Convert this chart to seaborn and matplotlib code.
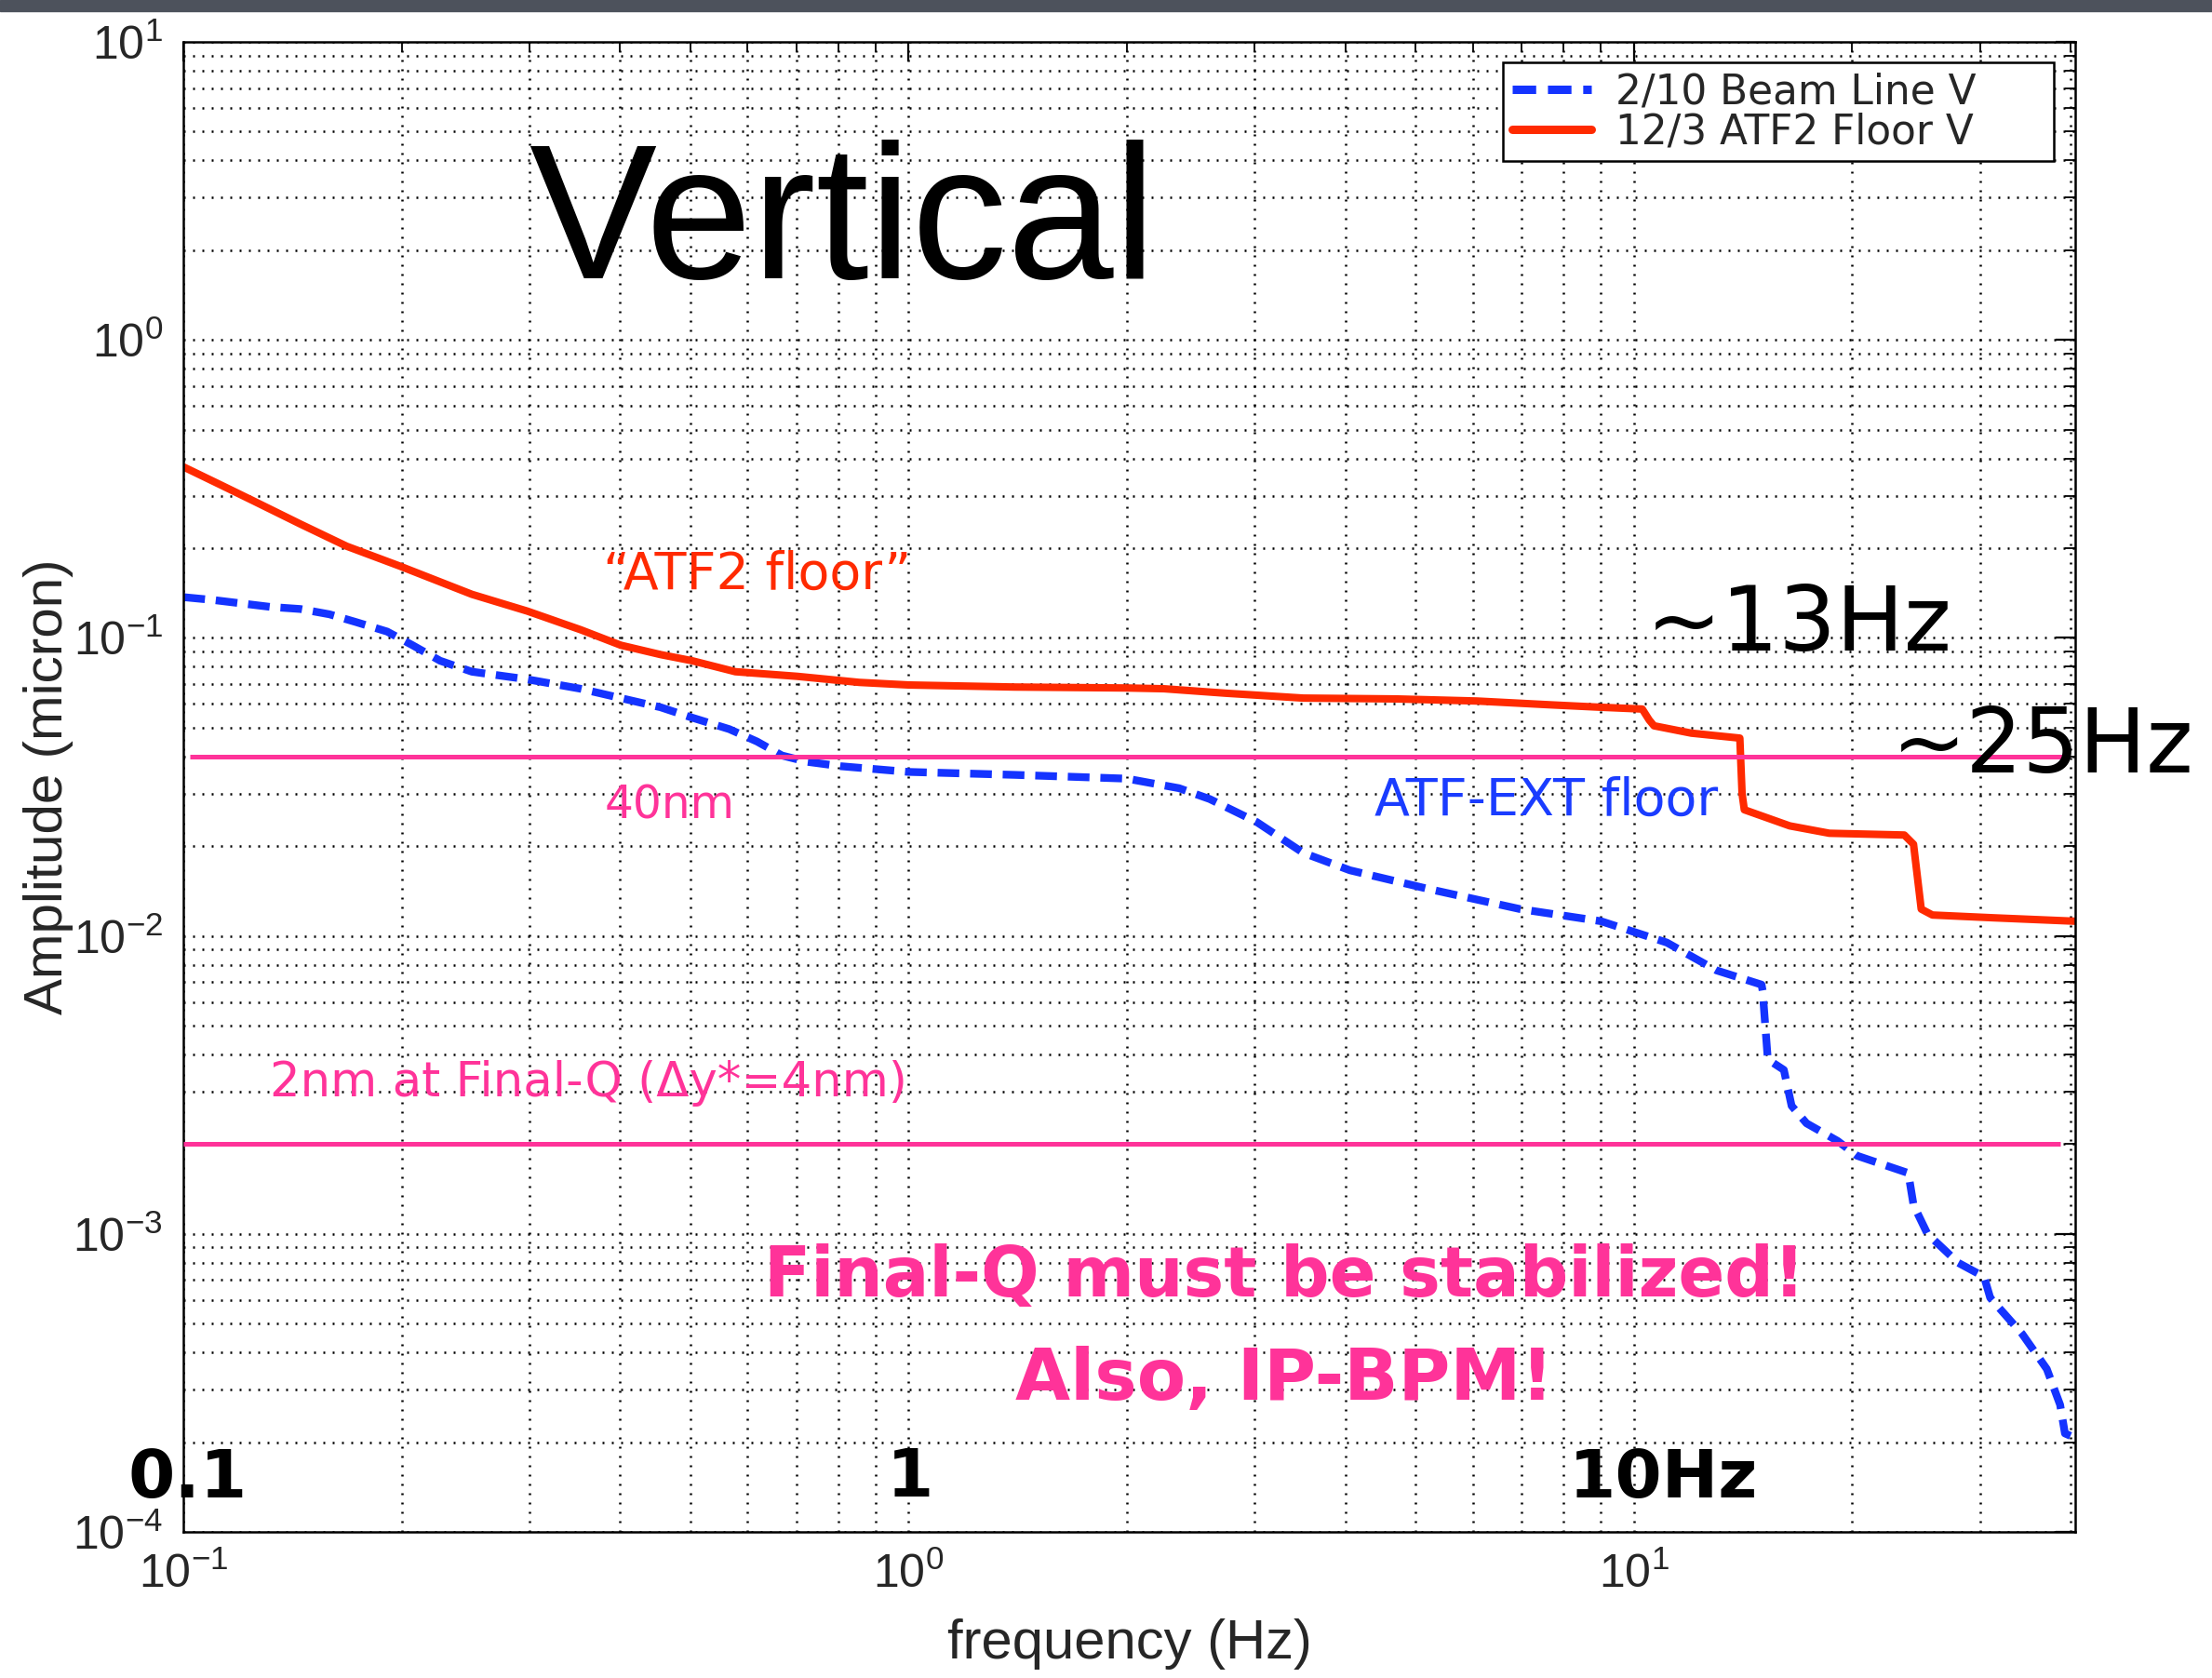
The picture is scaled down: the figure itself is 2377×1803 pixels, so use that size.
import matplotlib
matplotlib.use("Agg")
import matplotlib.pyplot as plt
import seaborn as sns
from matplotlib.patches import Rectangle
from matplotlib.ticker import LogLocator, NullFormatter

# --- data ---
beam_freq = [0.1, 0.110, 0.132, 0.145, 0.159, 0.173, 0.191, 0.207, 0.226, 0.250,
             0.298, 0.353, 0.401, 0.455, 0.498, 0.566, 0.618, 0.669, 0.724,
             0.806, 1.0, 1.40, 2.0, 2.36, 2.60, 3.02, 3.5, 4.06, 5.19, 6.97,
             9.01, 11.1, 13.0, 15.0, 15.05, 15.3, 16.1, 16.5, 17.3, 19.1, 20.3,
             23.9, 24.3, 25.4, 28.0, 30.4, 31.0, 34.3, 37.1, 38.7, 39.3, 40.0]
beam_amp = [0.137, 0.134, 0.127, 0.125, 0.120, 0.113, 0.105, 0.0945, 0.0838,
            0.0770, 0.0726, 0.0675, 0.0628, 0.0585, 0.0544, 0.0494, 0.0449,
            0.0403, 0.0384, 0.0371, 0.0355, 0.0347, 0.0337, 0.0313, 0.0288,
            0.0241, 0.0190, 0.0166, 0.0144, 0.0123, 0.0112, 0.0095, 0.00766,
            0.00686, 0.00655, 0.00385, 0.00355, 0.00269, 0.00235, 0.00205,
            0.00183, 0.0016, 0.00125, 0.001, 0.0008, 0.000718, 0.00061,
            0.000462, 0.000352, 0.000267, 0.000214, 0.00021]

floor_freq = [0.1, 0.1135, 0.125, 0.145, 0.168, 0.199, 0.250, 0.298, 0.353,
              0.401, 0.455, 0.503, 0.577, 0.702, 0.855, 1.0, 1.40, 2.0, 2.25,
              2.74, 3.5, 4.70, 6.07, 7.69, 9.01, 10.27, 10.5, 10.66, 12.0, 14.0,
              14.1, 14.2, 16.4, 18.6, 23.6, 24.3, 24.9, 25.8, 31.3, 40.6]
floor_amp = [0.375, 0.323, 0.288, 0.241, 0.203, 0.174, 0.140, 0.123, 0.1065,
             0.0945, 0.0879, 0.0838, 0.0770, 0.0743, 0.0709, 0.0695, 0.0684,
             0.0679, 0.0675, 0.0652, 0.0628, 0.0624, 0.0614, 0.0596, 0.0585,
             0.0577, 0.053, 0.0507, 0.0479, 0.0461, 0.030, 0.0265, 0.0234,
             0.0221, 0.0218, 0.0203, 0.0123, 0.01175, 0.0115, 0.0112]

limit_40nm = 0.04
limit_2nm = 0.002

W, H = 2377, 1803
fig = plt.figure(figsize=(W / 100, H / 100), dpi=100)
sns.set_style("white")
plt.rcParams["font.family"] = ["Liberation Sans", "DejaVu Sans"]

ax = fig.add_axes([197 / W, 1 - 1646 / H, (2230 - 197) / W, 1601 / H])

sns.lineplot(x=beam_freq, y=beam_amp, ax=ax, color="#1433ff", linewidth=6,
             linestyle=(0, (2.8, 1.4)), estimator=None, sort=False,
             label="2/10 Beam Line V", zorder=2)
sns.lineplot(x=floor_freq, y=floor_amp, ax=ax, color="#ff2a00", linewidth=5.8,
             estimator=None, sort=False, label="12/3 ATF2 Floor V", zorder=2)

ax.hlines(limit_40nm, 0.1022, 39.0, color="#ff3399", lw=3.6, zorder=3)
ax.hlines(limit_2nm, 0.1, 38.7, color="#ff3399", lw=3.6, zorder=3)

ax.set_xscale("log")
ax.set_yscale("log")
ax.set_xlim(0.1, 40.6)
ax.set_ylim(1e-4, 10)

ax.xaxis.set_major_locator(LogLocator(base=10))
ax.xaxis.set_minor_locator(LogLocator(base=10, subs=range(2, 10)))
ax.yaxis.set_minor_locator(LogLocator(base=10, subs=range(2, 10), numticks=20))
ax.xaxis.set_minor_formatter(NullFormatter())
ax.yaxis.set_minor_formatter(NullFormatter())

ax.grid(True, which="both", color="black", lw=1.8, linestyle=(0, (0.8, 3.2)))
ax.tick_params(which="both", direction="in", top=True, right=True, color="black")
ax.tick_params(which="major", length=15, width=1.6, labelsize=36, pad=16)
ax.tick_params(which="minor", length=8, width=1.3)
for s in ax.spines.values():
    s.set_color("black")
    s.set_linewidth(1.8)

ax.set_xlabel("frequency (Hz)", fontsize=43)
ax.set_ylabel("Amplitude (micron)", fontsize=42)
ax.xaxis.set_label_coords(0.5, -0.058)
ax.yaxis.set_label_coords(-0.058, 0.5)

# MATLAB-like legend: wide box, entries left aligned
leg = ax.legend(loc="upper left", bbox_to_anchor=(0.6975, 0.5, 0.2912, 0.486),
                mode="expand", borderaxespad=0, fancybox=False,
                edgecolor="black", framealpha=1, handlelength=1.95,
                handletextpad=0.6, labelspacing=0.0, borderpad=0.22,
                prop={"family": "DejaVu Sans", "size": 31.5})
leg.get_frame().set_linewidth(1.8)
for line in leg.get_lines():
    line.set_linewidth(6.5)

# annotations
fig.text(568 / W, 1 - 299 / H, "Vertical", fontsize=148, color="black",
         ha="left", va="baseline")
fig.text(814 / W, 1 - 618 / H, "\u201cATF2 floor\u201d", fontsize=40,
         color="#ff2a00", ha="center", va="center", family="DejaVu Sans")
fig.text(720 / W, 1 - 865 / H, "40nm", fontsize=35, color="#ff3399",
         ha="center", va="center", family="DejaVu Sans")
fig.text(1662 / W, 1 - 861 / H, "ATF-EXT floor", fontsize=40, color="#1a3cff",
         ha="center", va="center", family="DejaVu Sans")
fig.text(632 / W, 1 - 1164 / H, "2nm at Final-Q (\u0394y*=4nm)", fontsize=37,
         color="#ff3399", ha="center", va="center", family="DejaVu Sans")
fig.text(1380 / W, 1 - 1372 / H, "Final-Q must be stabilized!", fontsize=53,
         color="#ff3399", ha="center", va="center", family="DejaVu Sans",
         weight="bold")
fig.text(1380 / W, 1 - 1483 / H, "Also, IP-BPM!", fontsize=55,
         color="#ff3399", ha="center", va="center", family="DejaVu Sans",
         weight="bold")
fig.text(1933 / W, 1 - 672 / H, "~13Hz", fontsize=70, color="black",
         ha="center", va="center", family="DejaVu Sans")
fig.text(2195 / W, 1 - 803 / H, "~25Hz", fontsize=69, color="black",
         ha="center", va="center", family="DejaVu Sans")
for label, xpix in [("0.1", 202), ("1", 978), ("10Hz", 1787)]:
    fig.text(xpix / W, 1 - 1589 / H, label, fontsize=52, color="black",
             ha="center", va="center", family="DejaVu Sans", weight="bold")

# dark strip of the slide at the very top
fig.patches.append(Rectangle((0, 1 - 12 / H), 1, 12 / H, transform=fig.transFigure,
                             color="#4d525c", zorder=0))

fig.savefig("out.png", dpi=100, facecolor="white")
